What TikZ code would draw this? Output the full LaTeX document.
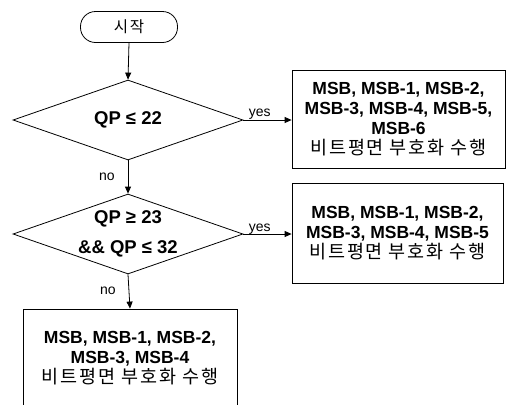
\documentclass[tikz,border=0pt]{standalone}
\usepackage{fontspec}
\setmainfont{Liberation Sans}
\newfontfamily\kr{Noto Sans CJK KR}
\newfontfamily\krw[LetterSpace=10]{Noto Sans CJK KR}
\usetikzlibrary{shapes.geometric,arrows.meta}
\begin{document}
\begin{tikzpicture}[x=1pt,y=-1pt,
  line width=0.8pt,
  box/.style={draw, rectangle, inner sep=0pt, align=center,
    font=\fontsize{17.5}{20}\selectfont\bfseries},
  kline/.style={},
  cond/.style={draw, diamond, inner sep=0pt, minimum width=230pt,
    minimum height=80pt},
  condtext/.style={inner sep=0pt, align=center,
    font=\fontsize{18.5}{30}\selectfont\bfseries},
  term/.style={draw, rectangle, rounded corners=15pt, minimum width=97pt,
    minimum height=31pt, inner sep=0pt, font=\krw\fontsize{15.5}{18}\selectfont},
  arr/.style={-{Triangle[length=7pt,width=6pt]}},
  lbl/.style={font=\fontsize{14}{16}\selectfont, inner sep=0pt}
]
\useasboundingbox (0,0) rectangle (507,405);
\clip (0,0) rectangle (507,405);

\node[term] (start) at (129,27) {시작};
\node[cond] (d1) at (128,120) {};
\node[condtext] (t1) at (d1.center) {QP ≤ 22};
\node[cond] (d2) at (128,234) {};
\node[condtext] (t2) at (d2.center) {QP ≥ 23\\\&\& QP ≤ 32};

\node[box, minimum width=213pt, minimum height=98pt] (b1) at (398.5,119)
  {MSB, MSB-1, MSB-2,\\MSB-3, MSB-4, MSB-5,\\MSB-6\\{\krw\mdseries\fontsize{18.5}{20}\selectfont 비트평면 부호화 수행}};
\node[box, minimum width=211pt, minimum height=100pt] (b2) at (397.5,233)
  {MSB, MSB-1, MSB-2,\\MSB-3, MSB-4, MSB-5\\{\krw\mdseries\fontsize{18.5}{20}\selectfont 비트평면 부호화 수행}};
\node[box, minimum width=214pt, minimum height=98pt] (b3) at (130,358)
  {MSB, MSB-1, MSB-2,\\MSB-3, MSB-4\\{\krw\mdseries\fontsize{18.5}{20}\selectfont 비트평면 부호화 수행}};

\draw[arr] (start.south) -- (d1.north);
\draw[arr] (d1.east) -- (d1.east -| b1.west)
  node[lbl, pos=0, anchor=base west, xshift=5pt, yshift=4pt] (y1) {yes};
\draw[arr] (d1.south) -- (d2.north)
  node[lbl, midway, anchor=base east, xshift=-13pt, yshift=-3pt] (n1) {no};
\draw[arr] (d2.east) -- (d2.east -| b2.west)
  node[lbl, pos=0, anchor=base west, xshift=5pt, yshift=3pt] (y2) {yes};
\draw[arr] (d2.south) -- (b3.north)
  node[lbl, midway, anchor=base east, xshift=-13pt, yshift=-3pt] (n2) {no};
\end{tikzpicture}
\end{document}
